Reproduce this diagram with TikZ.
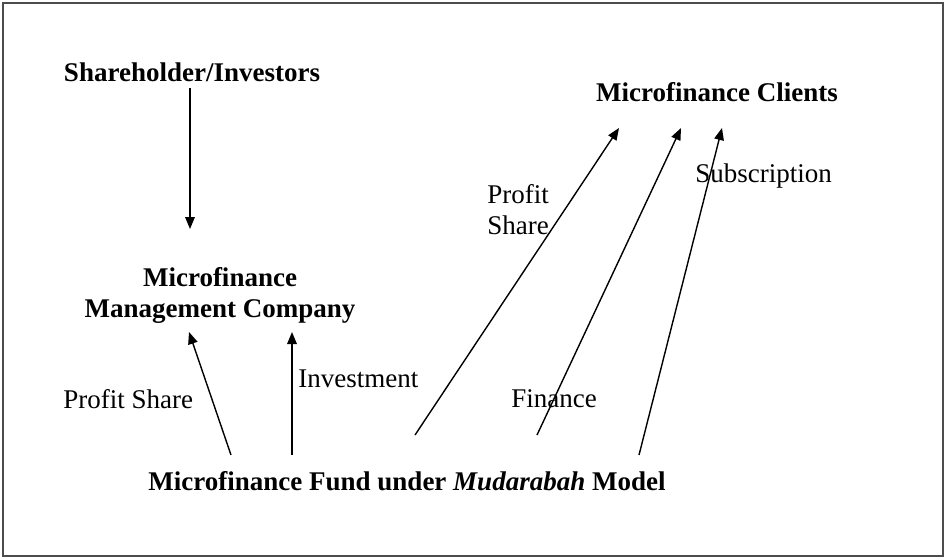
\documentclass[tikz,border=0pt]{standalone}
\usepackage{fontspec}
\setmainfont{Liberation Serif}
\usetikzlibrary{arrows.meta}
\begin{document}
\begin{tikzpicture}[x=0.5pt,y=-0.5pt,
  lbl/.style={inner sep=0pt, font=\fontsize{13.5}{15.5}\selectfont},
  ttl/.style={inner sep=0pt, align=center, font=\fontsize{13.5}{15.5}\selectfont\bfseries},
  arr/.style={line width=0.7pt, -{Triangle[length=6pt,width=4.8pt]}}]
\useasboundingbox (0,0) rectangle (946,559);
\draw[line width=0.6pt, draw=black!70] (3,3) rectangle (943,556);
% titles
\node[ttl, anchor=base] (sh) at (192,81) {Shareholder/Investors};
\node[ttl, anchor=base] (cl) at (717,101) {Microfinance Clients};
\node[ttl, anchor=base] (mmc) at (220,317) {Microfinance\\Management Company};
\node[ttl, anchor=base] (fund) at (407,490) {Microfinance Fund under \textit{Mudarabah} Model};
% labels
\node[lbl, anchor=base west] (ps1) at (63,408) {Profit Share};
\node[lbl, anchor=base west] (inv) at (298,387) {Investment};
\node[lbl, anchor=base west, align=left] (ps2) at (487,234) {Profit\\Share};
\node[lbl, anchor=base west] (sub) at (695,182) {Subscription};
\node[lbl, anchor=base west] (fin) at (511,407) {Finance};
% connector ends
\coordinate (shB) at (190,88);
\coordinate (mmcT) at (190,229);
\coordinate (mmcA) at (189,332);
\coordinate (mmcB) at (292,332);
\coordinate (fundA) at (231,455);
\coordinate (fundB) at (292,455);
\coordinate (fundC) at (415,435);
\coordinate (fundD) at (537,435);
\coordinate (fundE) at (639,455);
\coordinate (clA) at (619,128);
\coordinate (clB) at (681,128);
\coordinate (clC) at (722,128);
% connectors
\draw[arr] (shB) -- (mmcT);
\draw[arr] (fundA) -- (mmcA);
\draw[arr] (fundB) -- (mmcB);
\draw[arr] (fundC) -- (clA);
\draw[arr] (fundD) -- (clB);
\draw[arr] (fundE) -- (clC);
\end{tikzpicture}
\end{document}
